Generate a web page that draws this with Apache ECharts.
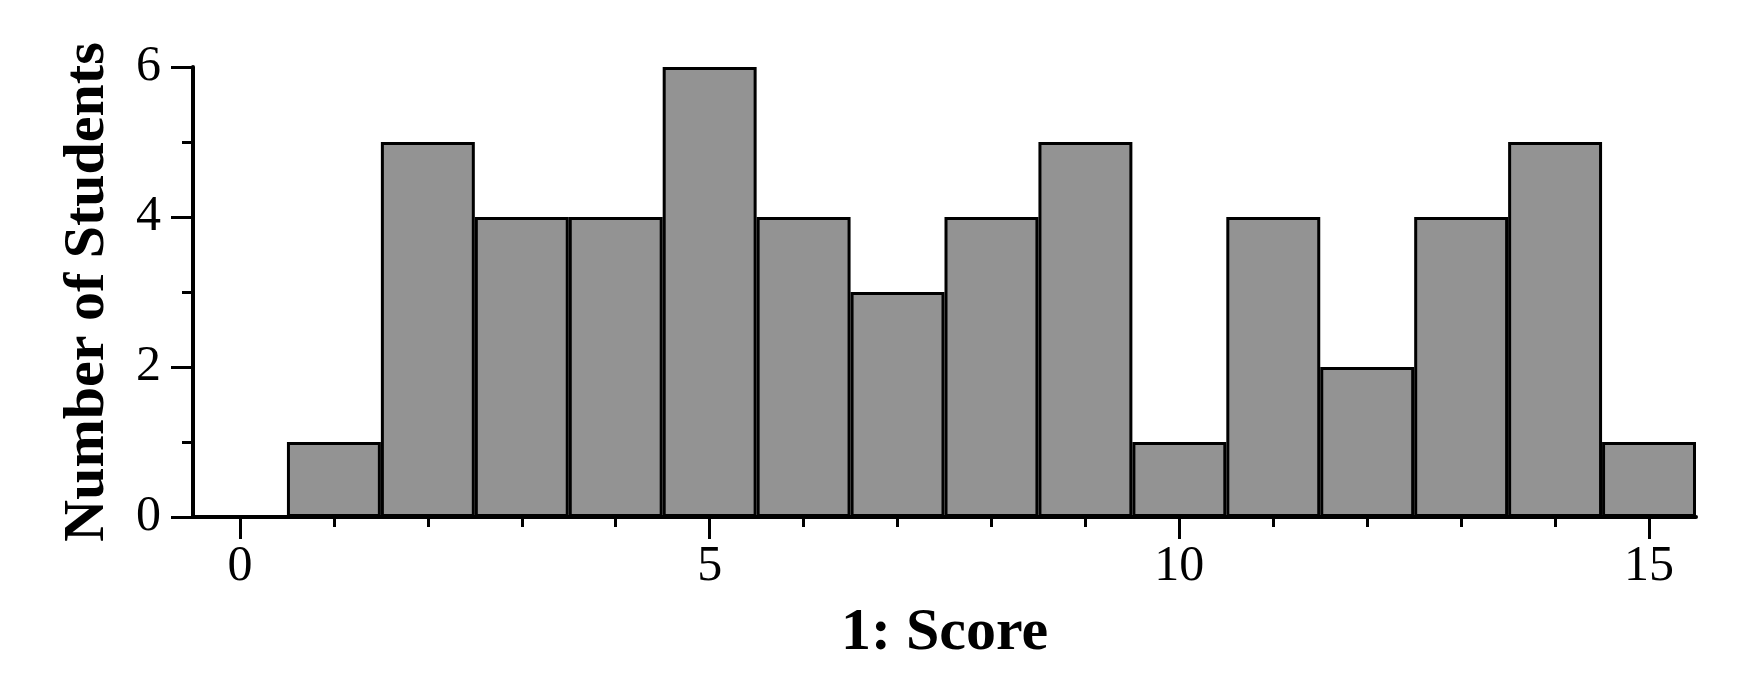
<!DOCTYPE html>
<html>
<head>
<meta charset="utf-8">
<script src="https://cdn.jsdelivr.net/npm/echarts@6/dist/echarts.min.js"></script>
<style>
html,body{margin:0;padding:0;background:#fff;}
#chart{width:1737px;height:686px;}
</style>
</head>
<body>
<div id="chart"></div>
<script>
const scores = ['0','1','2','3','4','5','6','7','8','9','10','11','12','13','14','15'];
const studentCounts = [0,1,5,4,4,6,4,3,4,5,1,4,2,4,5,1];
const xMajorLabels = ['0','5','10','15'];
const yTickValues = [0,2,4,6];
const xTitle = '1: Score';
const yTitle = 'Number of Students';

const FONT = '"Liberation Serif", "Times New Roman", serif';
const isMajor = (i, v) => xMajorLabels.indexOf(String(v)) >= 0;

const chart = echarts.init(document.getElementById('chart'), null, {renderer: 'canvas'});
chart.setOption({
  animation: false,
  backgroundColor: '#ffffff',
  grid: {left: 193, right: 41, top: 67, bottom: 169, containLabel: false},
  xAxis: [
    {
      type: 'category',
      position: 'bottom',
      data: scores,
      boundaryGap: true,
      axisLine: {show: true, onZero: false, lineStyle: {color: '#000', width: 4}},
      axisTick: {show: true, alignWithLabel: true, interval: isMajor, length: 22, lineStyle: {color: '#000', width: 3}},
      axisLabel: {show: true, interval: isMajor, margin: 25, color: '#000', fontSize: 50, fontFamily: FONT},
      splitLine: {show: false},
      name: xTitle,
      nameLocation: 'middle',
      nameGap: 86,
      nameTextStyle: {color: '#000', fontSize: 60, fontWeight: 'bold', fontFamily: FONT}
    },
    {
      type: 'category',
      position: 'bottom',
      data: scores,
      boundaryGap: true,
      axisLine: {show: false, onZero: false},
      axisTick: {show: true, alignWithLabel: true, interval: 0, length: 10, lineStyle: {color: '#000', width: 3}},
      axisLabel: {show: false},
      splitLine: {show: false}
    }
  ],
  yAxis: {
    type: 'value',
    min: yTickValues[0],
    max: yTickValues[yTickValues.length - 1],
    interval: yTickValues[1] - yTickValues[0],
    axisLine: {show: true, lineStyle: {color: '#000', width: 4}},
    axisTick: {show: true, length: 22, lineStyle: {color: '#000', width: 3}},
    minorTick: {show: true, splitNumber: 2, length: 11, lineStyle: {color: '#000', width: 3}},
    axisLabel: {show: true, margin: 32, color: '#000', fontSize: 50, fontFamily: FONT},
    splitLine: {show: false},
    minorSplitLine: {show: false},
    name: yTitle,
    nameLocation: 'middle',
    nameGap: 76,
    nameTextStyle: {color: '#000', fontSize: 58, fontWeight: 'bold', fontFamily: FONT}
  },
  series: [{
    type: 'bar',
    xAxisIndex: 0,
    data: studentCounts,
    barWidth: '100%',
    barCategoryGap: 0,
    itemStyle: {color: '#939393', borderColor: '#000', borderWidth: 3},
    emphasis: {disabled: true}
  }]
});
</script>
</body>
</html>
